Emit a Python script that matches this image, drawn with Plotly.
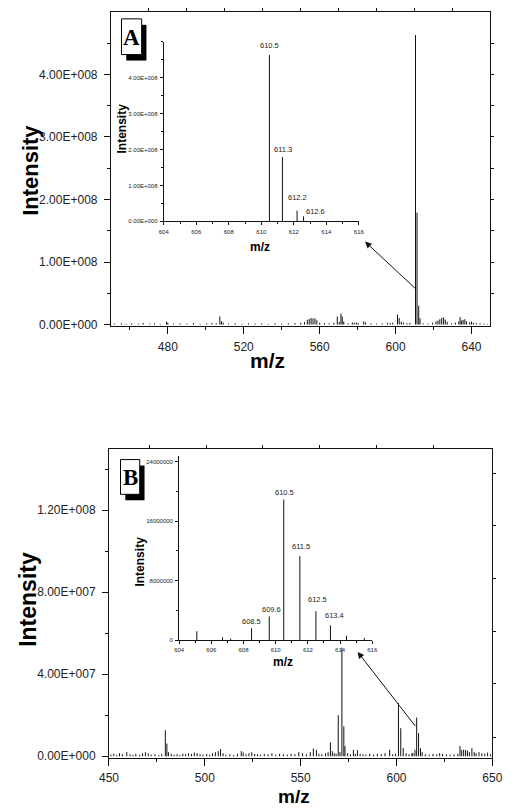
import plotly.graph_objects as go

# ---------------- data ----------------
# Panel A, full scan (m/z, intensity in units of 1e7 counts)
A_MZ = [452.0, 455.5, 458.0, 461.0, 464.5, 467.0, 470.5, 473.0, 476.0, 479.3,
        480.0, 483.0, 486.5, 490.0, 493.5, 497.0, 500.5, 503.2, 505.5, 507.4,
        508.3, 509.2, 512.0, 515.5, 519.0, 522.5, 526.0, 529.5, 533.0, 536.5,
        540.0, 543.5, 547.0, 550.0, 552.0, 553.5, 554.5, 555.5, 556.5, 557.5,
        558.5, 560.0, 562.5, 565.0, 567.5, 569.3, 570.3, 571.2, 571.9, 572.7,
        575.0, 577.2, 578.2, 579.3, 580.3, 583.2, 584.2, 587.0, 590.0, 593.0,
        595.8, 597.2, 598.5, 601.0, 601.9, 603.0, 604.2, 606.0, 607.5, 610.5,
        611.3, 612.2, 612.9, 614.5, 617.0, 619.5, 621.3, 622.3, 623.3, 624.3,
        625.3, 626.2, 627.2, 629.5, 631.5, 633.3, 634.0, 634.8, 635.6, 636.5,
        637.4, 639.0, 640.0, 641.0, 642.5, 644.5, 646.5, 648.5]
A_INT_E7 = [0.15, 0.2, 0.1, 0.2, 0.15, 0.25, 0.15, 0.2, 0.1, 0.45,
            0.3, 0.15, 0.2, 0.15, 0.25, 0.1, 0.2, 0.25, 0.2, 1.3,
            0.55, 0.3, 0.15, 0.2, 0.1, 0.2, 0.15, 0.2, 0.1, 0.2,
            0.15, 0.2, 0.25, 0.3, 0.4, 0.75, 0.9, 1.05, 0.95, 1.0,
            0.7, 0.3, 0.25, 0.2, 0.3, 1.3, 0.4, 1.75, 1.3, 0.5,
            0.2, 0.35, 0.3, 0.35, 0.25, 0.5, 0.35, 0.2, 0.15, 0.2,
            0.3, 0.25, 0.3, 1.6, 1.05, 0.45, 0.3, 0.2, 0.3, 46.3,
            17.9, 3.0, 1.0, 0.2, 0.15, 0.3, 0.5, 0.65, 0.85, 1.05,
            1.15, 0.8, 0.45, 0.2, 0.3, 0.5, 1.2, 0.65, 0.75, 0.85,
            0.5, 0.35, 0.45, 0.3, 0.25, 0.2, 0.15, 0.1]

# Panel A, zoomed scan around the molecular ion (intensity in units of 1e8)
INA_MZ = [610.5, 611.3, 612.2, 612.6]
INA_INT_E8 = [4.63, 1.79, 0.30, 0.14]

# Panel B, full scan (intensity in units of 1e7)
B_MZ = [451.0, 452.5, 454.0, 455.5, 457.0, 459.3, 461.0, 462.5, 464.0, 466.0,
        467.5, 469.0, 470.5, 472.0, 474.0, 476.0, 477.5, 479.4, 480.2, 481.0,
        482.5, 484.0, 485.5, 487.0, 488.5, 490.0, 491.5, 493.0, 494.5, 496.0,
        497.5, 499.0, 501.0, 502.5, 504.0, 505.5, 507.0, 508.2, 509.5, 511.0,
        513.0, 515.0, 517.0, 519.0, 520.0, 521.5, 523.0, 524.5, 526.0, 527.5,
        529.0, 531.0, 533.0, 535.0, 537.0, 539.0, 541.0, 543.0, 545.0, 547.0,
        549.0, 551.0, 553.0, 555.0, 556.6, 558.2, 559.5, 561.0, 563.0, 564.3,
        565.5, 566.5, 567.5, 568.5, 569.6, 570.5, 571.5, 572.5, 573.1, 574.5,
        576.0, 577.5, 578.5, 579.6, 581.0, 582.5, 584.0, 586.0, 588.0, 590.0,
        592.0, 594.0, 596.4, 598.0, 599.5, 601.0, 602.2, 603.5, 605.0, 606.5,
        608.0, 608.5, 609.6, 610.5, 611.5, 612.5, 613.4, 615.0, 617.0, 619.0,
        621.0, 622.5, 624.0, 626.0, 628.0, 630.0, 632.0, 633.1, 634.0, 635.0,
        636.0, 637.0, 638.0, 639.3, 640.5, 641.5, 643.0, 644.5, 646.0, 647.5,
        649.0]
B_INT_E7 = [0.08, 0.12, 0.06, 0.15, 0.1, 0.2, 0.1, 0.07, 0.12, 0.08,
            0.15, 0.2, 0.15, 0.08, 0.1, 0.06, 0.12, 1.27, 0.62, 0.2,
            0.12, 0.08, 0.1, 0.06, 0.12, 0.1, 0.15, 0.12, 0.18, 0.15,
            0.1, 0.08, 0.12, 0.08, 0.15, 0.2, 0.25, 0.35, 0.15, 0.08,
            0.1, 0.06, 0.12, 0.25, 0.18, 0.1, 0.15, 0.2, 0.12, 0.1,
            0.08, 0.12, 0.1, 0.15, 0.08, 0.12, 0.1, 0.08, 0.12, 0.1,
            0.2, 0.15, 0.1, 0.2, 0.38, 0.32, 0.12, 0.1, 0.15, 0.2,
            0.68, 0.25, 0.15, 0.12, 2.0, 0.2, 5.3, 1.46, 0.5, 0.15,
            0.1, 0.32, 0.12, 0.3, 0.12, 0.1, 0.08, 0.12, 0.08, 0.12,
            0.1, 0.15, 0.32, 0.1, 0.12, 2.6, 1.37, 0.4, 0.15, 0.1,
            0.15, 0.16, 0.32, 1.89, 1.13, 0.39, 0.2, 0.1, 0.08, 0.12,
            0.1, 0.15, 0.12, 0.1, 0.08, 0.1, 0.12, 0.5, 0.3, 0.32,
            0.3, 0.28, 0.2, 0.4, 0.2, 0.15, 0.2, 0.15, 0.12, 0.18,
            0.1]

# Panel B, zoomed scan (intensity in units of 1e6)
INB_MZ = [605.1, 606.7, 607.2, 608.5, 609.6, 610.5, 611.5, 612.5, 613.4, 614.4, 615.5]
INB_INT_E6 = [1.2, 0.4, 0.2, 1.6, 3.2, 18.9, 11.3, 3.9, 2.0, 0.6, 0.3]
INB_LABELED = [608.5, 609.6, 610.5, 611.5, 612.5, 613.4]

# Tick labels
A_XTICKS = [480, 520, 560, 600, 640]
A_YTICKS = [0, 1e8, 2e8, 3e8, 4e8]
A_YTEXT = ["0.00E+000", "1.00E+008", "2.00E+008", "3.00E+008", "4.00E+008"]
B_XTICKS = [450, 500, 550, 600, 650]
B_YTICKS = [0, 4e7, 8e7, 1.2e8]
B_YTEXT = ["0.00E+000", "4.00E+007", "8.00E+007", "1.20E+008"]
INA_XTICKS = [604, 606, 608, 610, 612, 614, 616]
INA_YTEXT = A_YTEXT
INB_YTICKS = [0, 8e6, 16e6, 24e6]
INB_YTEXT = ["0", "8000000", "16000000", "24000000"]

# ---------------- helpers ----------------
W, H = 512, 811
def px(x):
    return x / W
def py(y):
    return 1 - y / H

SANS = "Arial, Liberation Sans, sans-serif"
SERIF = "Times New Roman, Liberation Serif, serif"
INK = "#111111"


def sticks(mz, inten, xa, ya, width=1.0):
    xs, ys = [], []
    for m, v in zip(mz, inten):
        xs += [m, m, None]
        ys += [0, v, None]
    return go.Scatter(x=xs, y=ys, mode="lines", line=dict(color=INK, width=width),
                      xaxis=xa, yaxis=ya, hoverinfo="skip", showlegend=False)


fig = go.Figure()
fig.add_trace(sticks(A_MZ, [v * 1e7 for v in A_INT_E7], "x", "y"))
fig.add_trace(sticks(INA_MZ, [v * 1e8 for v in INA_INT_E8], "x2", "y2"))
fig.add_trace(sticks(B_MZ, [v * 1e7 for v in B_INT_E7], "x3", "y3"))
fig.add_trace(sticks(INB_MZ, [v * 1e6 for v in INB_INT_E6], "x4", "y4"))
# empty traces carrying the extra tick-only frame axes
for xa, ya in [("x5", "y"), ("x", "y5"), ("x6", "y3"), ("x3", "y6")]:
    fig.add_trace(go.Scatter(x=[], y=[], xaxis=xa, yaxis=ya, showlegend=False, hoverinfo="skip"))

main_tick = dict(ticks="outside", tickwidth=1, tickcolor=INK,
                 showline=True, linecolor=INK, linewidth=1, showgrid=False, zeroline=False,
                 tickfont=dict(family=SANS, size=12, color="#222"))
inset_tick = dict(ticks="outside", ticklen=3, tickwidth=0.8, tickcolor=INK,
                  showline=True, linecolor=INK, linewidth=1, showgrid=False, zeroline=False,
                  tickfont=dict(family=SANS, size=6, color="#222"), ticklabelstandoff=1)
frame_only = dict(ticks="outside", ticklen=3, tickwidth=1, tickcolor=INK, showline=False,
                  showticklabels=False, showgrid=False, zeroline=False)

A_YR = [-1.6e6, 5.0e8]
B_YR = [-1.0e6, 1.5e8]

fig.update_layout(
    width=W, height=H, margin=dict(l=0, r=0, t=0, b=0),
    paper_bgcolor="white", plot_bgcolor="rgba(0,0,0,0)", showlegend=False,
    # panel A main
    xaxis=dict(domain=[px(105), px(500)], range=[450, 650], anchor="y", mirror=True,
               tickmode="array", tickvals=A_XTICKS, ticklen=7, ticklabelstandoff=3,
               minor=dict(ticks="outside", ticklen=3, tickcolor=INK, tickvals=[460, 500, 540, 580, 620]),
               **main_tick),
    yaxis=dict(domain=[py(328), py(12)], range=A_YR, anchor="x", mirror=True,
               tickmode="array", tickvals=A_YTICKS, ticktext=A_YTEXT, ticklen=6, ticklabelstandoff=4,
               minor=dict(ticks="outside", ticklen=3, tickcolor=INK,
                          tickvals=[0.5e8, 1.5e8, 2.5e8, 3.5e8, 4.5e8]),
               **main_tick),
    xaxis5=dict(overlaying="x", side="top", anchor="y", range=[450, 650],
                tickmode="array", tickvals=[470, 490, 510, 530, 550, 570, 590, 610, 630], **frame_only),
    yaxis5=dict(overlaying="y", side="right", anchor="x", range=A_YR,
                tickmode="array", tickvals=[0.5e8, 1e8, 1.5e8, 2e8, 2.5e8, 3e8, 3.5e8, 4e8, 4.5e8],
                **frame_only),
    # panel A inset
    xaxis2=dict(domain=[px(160), px(363)], range=[604, 616], anchor="y2",
                tickmode="array", tickvals=INA_XTICKS,
                minor=dict(ticks="outside", ticklen=2, tickcolor=INK, dtick=1, tick0=604),
                **inset_tick),
    yaxis2=dict(domain=[py(223), py(42)], range=[0, 5.0e8], anchor="x2",
                tickmode="array", tickvals=A_YTICKS, ticktext=INA_YTEXT,
                minor=dict(ticks="outside", ticklen=2, tickcolor=INK, dtick=0.5e8, tick0=0),
                **inset_tick),
    # panel B main
    xaxis3=dict(domain=[px(103), px(502)], range=[450, 650], anchor="y3", mirror=True,
                tickmode="array", tickvals=B_XTICKS, ticklen=7, ticklabelstandoff=1,
                minor=dict(ticks="outside", ticklen=3, tickcolor=INK, tickvals=[475, 525, 575, 625]),
                **main_tick),
    yaxis3=dict(domain=[py(764), py(452)], range=B_YR, anchor="x3", mirror=True,
                tickmode="array", tickvals=B_YTICKS, ticktext=B_YTEXT, ticklen=6, ticklabelstandoff=4,
                minor=dict(ticks="outside", ticklen=3, tickcolor=INK, tickvals=[2e7, 6e7, 1e8, 1.4e8]),
                **main_tick),
    xaxis6=dict(overlaying="x3", side="top", anchor="y3", range=[450, 650],
                tickmode="array", tickvals=[471.1, 500.7, 530.3, 559.8, 589.6, 619.3], **frame_only),
    yaxis6=dict(overlaying="y3", side="right", anchor="x3", range=B_YR,
                tickmode="array", tickvals=[0.92e7, 3.53e7, 6.1e7, 8.66e7, 1.123e8, 1.379e8],
                **frame_only),
    # panel B inset
    xaxis4=dict(domain=[px(176), px(377)], range=[604, 616], anchor="y4",
                tickmode="array", tickvals=INA_XTICKS,
                minor=dict(ticks="outside", ticklen=2, tickcolor=INK, dtick=1, tick0=604),
                **inset_tick),
    yaxis4=dict(domain=[py(645), py(459)], range=[0, 2.48e7], anchor="x4",
                tickmode="array", tickvals=INB_YTICKS, ticktext=INB_YTEXT,
                minor=dict(ticks="outside", ticklen=2, tickcolor=INK, dtick=4e6, tick0=0),
                **inset_tick),
)

ann = []
def title(text, x, y, size, angle=0):
    ann.append(dict(text=f"<b>{text}</b>", x=px(x), y=py(y), xref="paper", yref="paper",
                    showarrow=False, textangle=angle, xanchor="center", yanchor="middle",
                    font=dict(family=SANS, size=size, color="black")))

title("Intensity", 22, 172, 22, -90)
title("m/z", 268, 363, 21)
title("Intensity", 117, 129, 12, -90)
title("m/z", 260, 249, 12)
title("Intensity", 18, 604, 23, -90)
title("m/z", 296, 802, 19)
title("Intensity", 135, 566, 12, -90)
title("m/z", 284, 667, 12)

# peak labels in the insets (offsets in px above the stick top)
INA_OFFS = {610.5: (0, 9), 611.3: (1, 8), 612.2: (0, 13), 612.6: (12, 5)}
for m, v in zip(INA_MZ, INA_INT_E8):
    dx, dy = INA_OFFS[m]
    ann.append(dict(text=f"{m:.1f}", x=m, y=v * 1e8, xref="x2", yref="y2", showarrow=False,
                    xanchor="center", yanchor="middle", xshift=dx, yshift=dy,
                    font=dict(family=SANS, size=7.5, color="#222")))
INB_OFFS = {608.5: (0, 7), 609.6: (2, 7), 610.5: (1, 7), 611.5: (1, 10), 612.5: (2, 12), 613.4: (4, 10)}
for m, v in zip(INB_MZ, INB_INT_E6):
    if m in INB_LABELED:
        dx, dy = INB_OFFS[m]
        ann.append(dict(text=f"{m:.1f}", x=m, y=v * 1e6, xref="x4", yref="y4", showarrow=False,
                        xanchor="center", yanchor="middle", xshift=dx, yshift=dy,
                        font=dict(family=SANS, size=7.5, color="#222")))

# arrows from the molecular-ion cluster to the zoomed view
ann.append(dict(x=583.9, y=1.327e8, ax=611.0, ay=0.56e8, xref="x", yref="y", axref="x", ayref="y",
                text="", showarrow=True, arrowhead=2, arrowsize=1.3, arrowwidth=1, arrowcolor=INK))
ann.append(dict(x=579.7, y=5.09e7, ax=610.4, ay=1.40e7, xref="x3", yref="y3", axref="x3", ayref="y3",
                text="", showarrow=True, arrowhead=2, arrowsize=1.3, arrowwidth=1, arrowcolor=INK))

# panel letters in shadowed boxes
shapes = []
for letter, (x0, y0, x1, y1) in [("A", (116, 19, 137, 55)), ("B", (115, 463, 135, 498))]:
    shapes.append(dict(type="rect", xref="paper", yref="paper", x0=px(x0 + 5), x1=px(x1 + 5),
                       y0=py(y1 + 6), y1=py(y0 + 6), fillcolor="black", line=dict(width=0)))
    shapes.append(dict(type="rect", xref="paper", yref="paper", x0=px(x0), x1=px(x1),
                       y0=py(y1), y1=py(y0), fillcolor="white", line=dict(color="black", width=1)))
    ann.append(dict(text=f"<b>{letter}</b>", x=px((x0 + x1) / 2), y=py((y0 + y1) / 2 + 1),
                    xref="paper", yref="paper", showarrow=False, xanchor="center", yanchor="middle",
                    font=dict(family=SERIF, size=23, color="black")))

fig.update_layout(annotations=ann, shapes=shapes)
fig.write_html("out.html")
